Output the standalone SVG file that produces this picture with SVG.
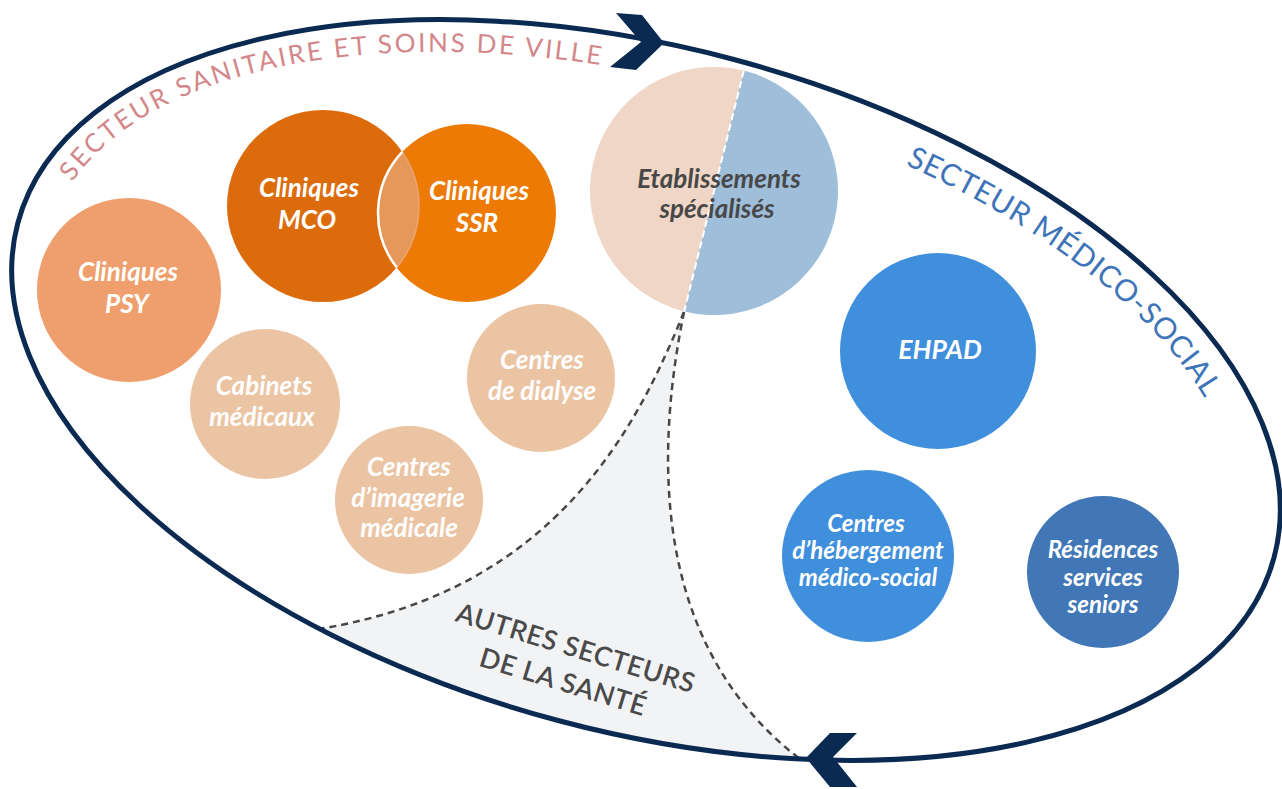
<svg xmlns="http://www.w3.org/2000/svg" width="1282" height="789" viewBox="0 0 1282 789">
<style>
.lbl{font-family:Lato,"Noto Sans",sans-serif;font-weight:700;font-style:italic;fill:#ffffff;text-anchor:middle}
.l26{font-size:26px}
.l24{font-size:24px}
.dark{fill:#484848}
.dash{fill:none;stroke:#474747;stroke-width:2.5;stroke-dasharray:7 5}
.pink{font-family:Lato,"Noto Sans",sans-serif;font-weight:400;font-size:26px;fill:#D4878A;letter-spacing:2.5px}
.blue{font-family:Lato,"Noto Sans",sans-serif;font-weight:400;font-size:30px;fill:#3E74B8;letter-spacing:0.6px}
.grey{font-family:Lato,"Noto Sans",sans-serif;font-weight:600;font-size:27px;fill:#4A4A4A;letter-spacing:0.6px;text-anchor:middle}
.navy{fill:#0B2A52}
</style>
<defs>
<path id="pinkPath" d="M72.6,182 A617,309 14.9 0 1 1013,210.7"/>
<path id="bluePath" d="M905.5,164.7 A608,300 14.9 0 1 1233.6,546.3"/>
</defs>

<g id="autres-secteurs">
<path d="M684,312 C640,420 560,590 319.8,628.8 A650,342 14.9 0 0 799.7,758.8 C645,640 658,440 684,312 Z" fill="#F2F3F5"/>
<text class="grey" transform="translate(573,657) rotate(17)"><tspan x="0" y="0">AUTRES SECTEURS</tspan><tspan x="-2" y="36">DE LA SANTÉ</tspan></text>
</g>

<g id="connectors">
<path class="dash" d="M684,312 C640,420 560,590 319.8,628.8"/>
<path class="dash" d="M684,312 C658,440 645,640 799.7,758.8"/>
<ellipse cx="646" cy="390" rx="650" ry="342" transform="rotate(14.9 646 390)" fill="none" stroke="#0B2A52" stroke-width="5"/>
<polygon class="navy" points="616,13 642,15 664,43 636,70 610,67 641,42"/>
<polygon class="navy" points="830,733 857,733 833,757 857,787 830,787 806,758"/>
</g>

<g id="titre-sanitaire">
<text class="pink"><textPath href="#pinkPath">SECTEUR SANITAIRE ET SOINS DE VILLE</textPath></text>
</g>
<g id="titre-medico-social">
<text class="blue"><textPath href="#bluePath">SECTEUR MÉDICO-SOCIAL</textPath></text>
</g>

<g id="cliniques-psy">
<circle cx="129" cy="290" r="92" fill="#EF9F6D"/>
<text class="lbl l26"><tspan x="128" y="281">Cliniques</tspan><tspan x="127" y="313">PSY</tspan></text>
</g>

<g id="cliniques-mco-ssr">
<circle id="cliniques-mco" cx="323" cy="206" r="96" fill="#DC6B0B"/>
<circle id="cliniques-ssr" cx="467" cy="213" r="89" fill="#ED7A05"/>
<path d="M402.3,151.9 A96,96 0 0 1 396.7,267.5 A89,89 0 0 1 402.3,151.9 Z" fill="#E6975A"/>
<path d="M402.3,151.9 A96,96 0 0 1 396.7,267.5" fill="none" stroke="#EBA570" stroke-width="1.5"/>
<path d="M402.3,151.9 A89,89 0 0 0 396.7,267.5" fill="none" stroke="#ffffff" stroke-width="2.5"/>
<text class="lbl l26"><tspan x="309" y="197">Cliniques</tspan><tspan x="307" y="229">MCO</tspan></text>
<text class="lbl l26"><tspan x="479" y="200">Cliniques</tspan><tspan x="477" y="232">SSR</tspan></text>
</g>

<g id="etablissements-specialises">
<path d="M743.8,70.6 A124,124 0 0 0 684.2,311.4 Z" fill="#EFD6C6"/>
<path d="M743.8,70.6 A124,124 0 0 1 684.2,311.4 Z" fill="#9EBEDA"/>
<line x1="743.8" y1="70.6" x2="684.2" y2="311.4" stroke="#ffffff" stroke-width="2" stroke-dasharray="7 4"/>
<text class="lbl l26 dark"><tspan x="719" y="188">Etablissements</tspan><tspan x="717" y="218">spécialisés</tspan></text>
</g>

<g id="cabinets-medicaux">
<circle cx="265" cy="404" r="75" fill="#EBC4A3"/>
<text class="lbl l26"><tspan x="264" y="395">Cabinets</tspan><tspan x="262" y="426">médicaux</tspan></text>
</g>

<g id="centres-dialyse">
<circle cx="541" cy="378" r="74" fill="#EBC4A3"/>
<text class="lbl l26"><tspan x="542" y="369">Centres</tspan><tspan x="542" y="400">de dialyse</tspan></text>
</g>

<g id="centres-imagerie">
<circle cx="409" cy="500" r="74" fill="#EBC4A3"/>
<text class="lbl l26"><tspan x="409" y="476">Centres</tspan><tspan x="408" y="507">d’imagerie</tspan><tspan x="409" y="537">médicale</tspan></text>
</g>

<g id="ehpad">
<circle cx="938" cy="351" r="98" fill="#3F8FDC"/>
<text class="lbl" style="font-size:26.5px" x="940" y="359">EHPAD</text>
</g>

<g id="centres-hebergement">
<circle cx="868" cy="556" r="86" fill="#3F8FDC"/>
<text class="lbl l24"><tspan x="866" y="532">Centres</tspan><tspan x="868" y="559">d’hébergement</tspan><tspan x="868" y="586">médico-social</tspan></text>
</g>

<g id="residences-seniors">
<circle cx="1103" cy="572" r="76" fill="#4177B7"/>
<text class="lbl l24"><tspan x="1103" y="558">Résidences</tspan><tspan x="1103" y="586">services</tspan><tspan x="1103" y="613">seniors</tspan></text>
</g>
</svg>
